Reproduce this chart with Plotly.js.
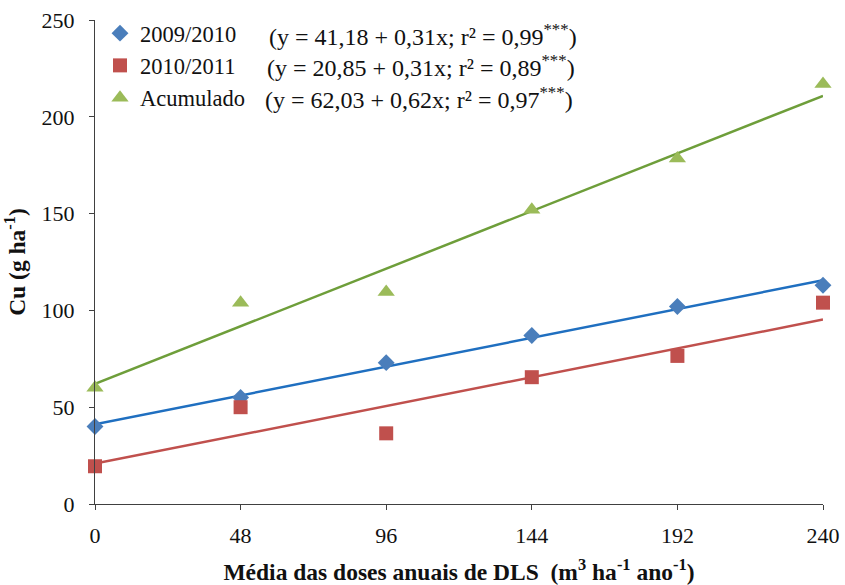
<!DOCTYPE html>
<html>
<head>
<meta charset="utf-8">
<script src="https://cdn.plot.ly/plotly-3.0.1.min.js"></script>
<style>html,body{margin:0;padding:0;background:#fff;}#chart{width:845px;height:585px;}</style>
</head>
<body>
<div id="chart"></div>
<script>
// Doses (x)
var doses = [0, 48, 96, 144, 192, 240];
// Observed Cu values (g ha-1)
var cu2009 = [40, 55, 73, 87, 102, 113];
var cu2010 = [19.5, 50, 36.5, 65.5, 76.5, 104];
var cuAcum = [60, 104, 109.5, 152, 178.5, 217];
// Fitted line endpoints (from regression equations)
var fitX = [0, 240];
var fit2009 = [41.18, 115.58];
var fit2010 = [20.85, 95.25];
var fitAcum = [62.03, 210.83];
// Labels
var names = ['2009/2010', '2010/2011', 'Acumulado'];
var eqs = ['(y = 41,18 + 0,31x; r² = 0,99<sup>***</sup>)',
           '(y = 20,85 + 0,31x; r² = 0,89<sup>***</sup>)',
           '(y = 62,03 + 0,62x; r² = 0,97<sup>***</sup>)'];
var tickX = [0, 48, 96, 144, 192, 240];
var tickY = [0, 50, 100, 150, 200, 250];

var font = 'Liberation Serif';
var lineCols = ['#1f6fc0', '#c0504d', '#6e9e3a'];
var markCols = ['#4a7ebb', '#c0504d', '#9bbb59'];

var traces = [
  {x: fitX, y: fit2009, mode: 'lines', line: {color: lineCols[0], width: 2.5}, showlegend: false, hoverinfo: 'skip'},
  {x: fitX, y: fit2010, mode: 'lines', line: {color: lineCols[1], width: 2.5}, showlegend: false, hoverinfo: 'skip'},
  {x: fitX, y: fitAcum, mode: 'lines', line: {color: lineCols[2], width: 2.5}, showlegend: false, hoverinfo: 'skip'},
  {x: doses, y: cu2009, mode: 'markers', name: names[0], marker: {symbol: 'diamond', size: 13, color: markCols[0]}, cliponaxis: false},
  {x: doses, y: cu2010, mode: 'markers', name: names[1], marker: {symbol: 'square', size: 14, color: markCols[1]}, cliponaxis: false},
  {x: doses, y: cuAcum, mode: 'markers', name: names[2], marker: {symbol: 'triangle-up', size: 15, color: markCols[2]}, cliponaxis: false}
];

var eqX = [267, 265, 263];
var eqY = [35, 66, 98];
var annotations = eqs.map(function(t, i) {
  return {text: t, xref: 'paper', yref: 'paper', x: (eqX[i] - 95) / 728, y: 1 - (eqY[i] - 20) / 484,
          xanchor: 'left', yanchor: 'middle', showarrow: false, font: {family: font, size: 24, color: '#111'}};
});

var layout = {
  width: 845, height: 585,
  margin: {l: 95, r: 22, t: 20, b: 81},
  paper_bgcolor: '#fff', plot_bgcolor: '#fff',
  font: {family: font, color: '#111'},
  showlegend: true,
  legend: {x: (100 - 95) / 728, y: 1 + (20 - 12) / 484, xanchor: 'left', yanchor: 'top', bgcolor: 'rgba(0,0,0,0)',
           font: {family: font, size: 22.5, color: '#111'}, itemwidth: 30},
  xaxis: {range: [0, 240], tickvals: tickX, ticktext: tickX.map(String), showgrid: false, zeroline: false,
          showline: true, linecolor: '#404040', linewidth: 1, ticks: 'outside', ticklen: 5, tickcolor: '#404040',
          tickfont: {family: font, size: 22, color: '#111'}, ticklabelstandoff: 7, fixedrange: true,
          title: {text: '<b>Média das doses anuais de DLS  (m<sup>3</sup> ha<sup>-1</sup> ano<sup>-1</sup>)</b>',
                  font: {family: font, size: 23.5, color: '#111'}, standoff: 17}},
  yaxis: {range: [0, 250], tickvals: tickY, showgrid: false, zeroline: false,
          showline: true, linecolor: '#404040', linewidth: 1, ticks: 'outside', ticklen: 5, tickcolor: '#404040',
          tickfont: {family: font, size: 22, color: '#111'}, ticklabelstandoff: 10, fixedrange: true,
          title: {text: '<b>Cu (g ha<sup>-1</sup>)</b>', font: {family: font, size: 23.5, color: '#111'}, standoff: 12}},
  annotations: annotations
};

Plotly.newPlot('chart', traces, layout, {staticPlot: true, displayModeBar: false});
</script>
</body>
</html>
